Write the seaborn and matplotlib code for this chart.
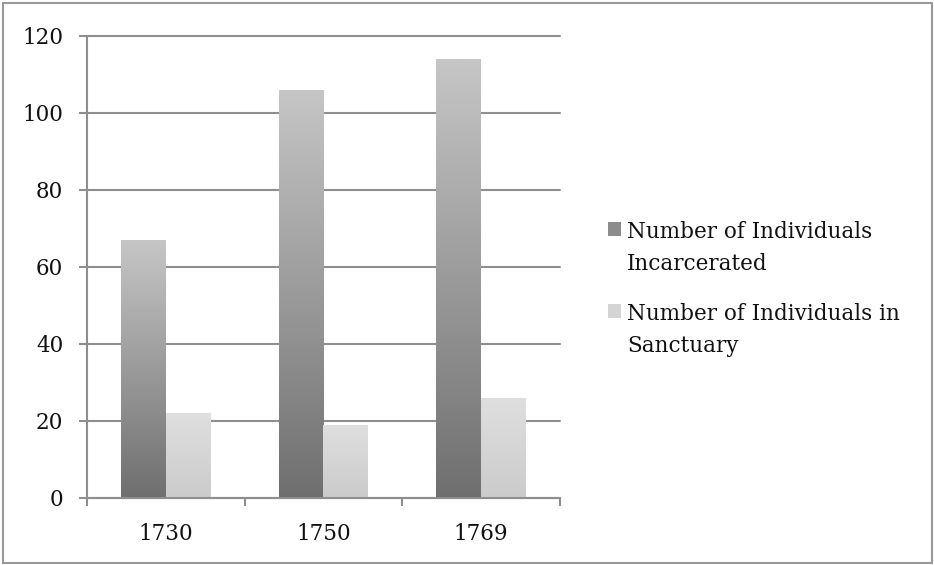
import pandas as pd
import numpy as np
import matplotlib
matplotlib.use('Agg')
import matplotlib.pyplot as plt
import seaborn as sns
from matplotlib.patches import Rectangle
from matplotlib.colors import LinearSegmentedColormap
from matplotlib.legend_handler import HandlerPatch

years = ['1730', '1750', '1769']
incarcerated = [67, 106, 114]
sanctuary = [22, 19, 26]
series_names = ['Number of Individuals\nIncarcerated', 'Number of Individuals in\nSanctuary']
y_ticks = [0, 20, 40, 60, 80, 100, 120]

df = pd.DataFrame({
    'Year': years * 2,
    'Count': incarcerated + sanctuary,
    'Series': [series_names[0]] * 3 + [series_names[1]] * 3,
})

sns.set_style('white')
plt.rcParams['font.family'] = ['DejaVu Serif']

grid_col = '#8e8e8e'
gradients = {
    series_names[0]: ('#6f6f6f', '#c6c6c6'),
    series_names[1]: ('#cbcbcb', '#dfdfdf'),
}
mid_cols = ['#8a8a8a', '#d2d2d2']

fig = plt.figure(figsize=(9.34, 5.65), dpi=100)
ax = fig.add_axes([0.0931, 0.1186, 0.5065, 0.8177])

sns.barplot(data=df, x='Year', y='Count', hue='Series', palette=mid_cols,
            width=0.57, gap=0, ax=ax, saturation=1, linewidth=0, legend=False)

# gradient fill for each bar, clipped to the bar
for i, patch in enumerate(ax.patches):
    name = series_names[i // 3]
    cmap = LinearSegmentedColormap.from_list(name, gradients[name])
    x0, y0 = patch.get_x(), patch.get_y()
    w, h = patch.get_width(), patch.get_height()
    grad = np.linspace(0, 1, 256).reshape(-1, 1)
    im = ax.imshow(grad, cmap=cmap, origin='lower', aspect='auto',
                   extent=[x0, x0 + w, y0, y0 + h], zorder=2)
    im.set_clip_path(patch)

ax.set_xlim(-0.5, 2.5)
ax.set_ylim(0, 120)
ax.set_axisbelow(True)

ax.set_yticks(y_ticks)
ax.set_yticklabels([str(v) for v in y_ticks])
ax.set_xticks([-0.5, 0.5, 1.5, 2.5])
ax.set_xticklabels(['', '', '', ''])
ax.set_xticks([0, 1, 2], minor=True)
ax.set_xticklabels(years, minor=True)

ax.yaxis.grid(True, color=grid_col, linewidth=1.5)
for gl in ax.get_ygridlines():
    gl.set_clip_on(False)
ax.xaxis.grid(False)

ax.tick_params(axis='y', which='major', length=6, width=1.5, color=grid_col,
               labelsize=15.5, labelcolor='#111111', pad=11, left=True)
ax.tick_params(axis='x', which='major', length=6, width=1.5, color=grid_col, bottom=True)
ax.tick_params(axis='x', which='minor', length=0, labelsize=15.5,
               labelcolor='#111111', pad=18)

sns.despine(ax=ax, top=True, right=True)
for side in ['left', 'bottom']:
    ax.spines[side].set_color(grid_col)
    ax.spines[side].set_linewidth(1.5)
ax.set_xlabel('')
ax.set_ylabel('')


def shifted_square(legend, orig_handle, xdescent, ydescent, width, height, fontsize):
    return Rectangle((-xdescent, -ydescent + 14.5), width, height)


handles = [Rectangle((0, 0), 1, 1, facecolor=c, edgecolor='none') for c in ['#8c8c8c', '#d4d4d4']]
leg = ax.legend(handles, series_names, loc='upper left',
                bbox_to_anchor=(0.651, 0.609), bbox_transform=fig.transFigure,
                frameon=False, fontsize=15.5, handlelength=0.62, handleheight=0.62,
                handletextpad=0.25, labelspacing=1.3, borderpad=0, borderaxespad=0,
                handler_map={Rectangle: HandlerPatch(patch_func=shifted_square)})
for t in leg.get_texts():
    t.set_linespacing(1.6)
    t.set_color('#111111')

fig.add_artist(Rectangle((2.5 / 934, 2.5 / 565), 929 / 934, 560 / 565,
                         transform=fig.transFigure, fill=False,
                         edgecolor='#9a9a9a', linewidth=1.5))

plt.savefig('out.png', dpi=100)
